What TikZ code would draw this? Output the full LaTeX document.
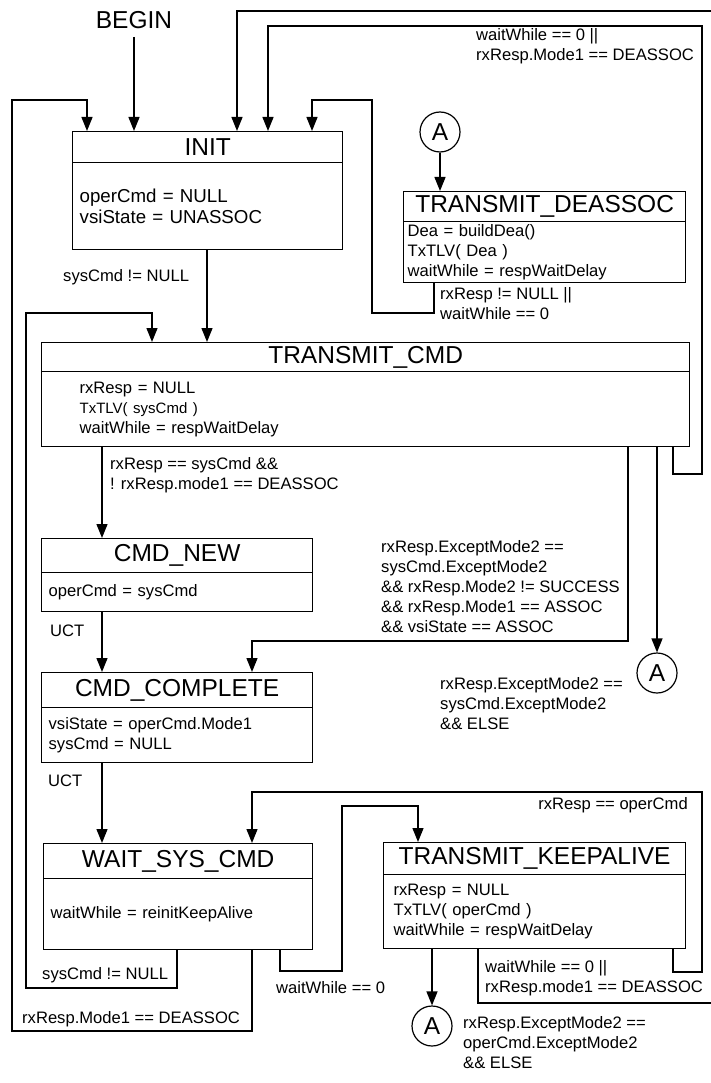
\documentclass[tikz,border=0pt]{standalone}
\usepackage{fontspec}
\setmainfont{Liberation Sans}
\usetikzlibrary{arrows.meta}

\newcommand{\titlesize}{\fontsize{24.5}{28}\selectfont}
\newcommand{\bodysize}{\fontsize{16.6}{20}\selectfont}
\newcommand{\initsize}{\fontsize{18.7}{21.5}\selectfont}

\tikzset{
  titlebox/.style={draw, line width=1.3pt, anchor=north west, inner sep=0pt, font=\titlesize},
  bodybox/.style={draw, line width=1.3pt, anchor=north west, inner ysep=0pt, align=left, font=\bodysize},
  conn/.style={draw, circle, line width=1.2pt, minimum size=40pt, inner sep=0pt, font=\titlesize},
  trans/.style={line width=1.3pt, -{Triangle[length=14pt,width=11pt]}},
  lbl/.style={anchor=west, align=left, inner sep=0pt, font=\bodysize},
}

\begin{document}
\begin{tikzpicture}[x=1pt, y=-1pt]
\useasboundingbox (0,0) rectangle (711,1083);
\clip (0,0) rectangle (711,1083);

% Draw the states
\node[titlebox, minimum width=270pt, minimum height=31pt] (init) at (72,131) {INIT};
\node[bodybox, font=\initsize, inner xsep=7pt, text width=256pt, minimum height=87pt] (initbody) at (72,162) {operCmd = NULL\\vsiState = UNASSOC};

\node[titlebox, minimum width=282pt, minimum height=30pt] (dea) at (403,191) {TRANSMIT\_DEASSOC};
\node[bodybox, inner xsep=4pt, text width=274pt, minimum height=61pt] (deabody) at (403,221) {Dea = buildDea()\\TxTLV( Dea )\\waitWhile = respWaitDelay};

\node[titlebox, minimum width=648pt, minimum height=29pt] (tcmd) at (41,342) {TRANSMIT\_CMD};
\node[bodybox, inner xsep=38pt, text width=572pt, minimum height=75pt] (tcmdbody) at (41,371) {rxResp = NULL\\{\fontsize{15}{20}\selectfont TxTLV( sysCmd )}\\waitWhile = respWaitDelay};

\node[titlebox, minimum width=271pt, minimum height=34pt] (cnew) at (41,538) {CMD\_NEW};
\node[bodybox, inner xsep=7pt, text width=257pt, minimum height=39pt] (cnewbody) at (41,572) {operCmd = sysCmd};

\node[titlebox, minimum width=271pt, minimum height=35pt] (ccomp) at (41,672) {CMD\_COMPLETE};
\node[bodybox, inner xsep=7pt, text width=257pt, minimum height=55pt] (ccompbody) at (41,707) {vsiState = operCmd.Mode1\\sysCmd = NULL};

\node[titlebox, minimum width=269pt, minimum height=35pt] (wait) at (43,843) {WAIT\_SYS\_CMD};
\node[bodybox, inner xsep=7pt, text width=255pt, minimum height=71pt] (waitbody) at (43,878) {waitWhile = reinitKeepAlive};

\node[titlebox, minimum width=302pt, minimum height=32pt] (ka) at (383,842) {TRANSMIT\_KEEPALIVE};
\node[bodybox, inner xsep=10pt, text width=282pt, minimum height=74pt] (kabody) at (383,874) {rxResp = NULL\\TxTLV( operCmd )\\waitWhile = respWaitDelay};

% Draw the connectors A
\node[conn] (a1) at (440,132) {A};
\node[conn] (a2) at (657,673) {A};
\node[conn] (a3) at (432,1026) {A};

% Draw the transitions
\node[font=\titlesize, inner sep=0pt] (begin) at (134,20) {BEGIN};
\draw[trans, shorten <=8pt] (begin.south) -- (begin.south |- init.north);
\draw[trans] (waitbody.south -| 252,0) -- (252,1031) -- (12,1031) -- (12,100) -- (87,100) -- (init.north -| 87,0);
\draw[trans] (waitbody.south -| 177,0) -- (177,988) -- (26,988) -- (26,313) -- (152,313) -- (tcmd.north -| 152,0);
\draw[trans] (initbody.south -| 207,0) -- (tcmd.north -| 207,0);
\draw[trans] (deabody.south -| 434,0) -- (434,313) -- (372,313) -- (372,100) -- (312,100) -- (init.north -| 312,0);
\draw[trans] (tcmdbody.south -| 673,0) -- (673,474) -- (702,474) -- (702,26) -- (268,26) -- (init.north -| 268,0);
\draw[trans] (kabody.south -| 478,0) -- (478,1003) -- (720,1003) -- (720,11) -- (237,11) -- (init.north -| 237,0);
\draw[trans] (a1.south) -- (a1.south |- dea.north);
\draw[trans] (tcmdbody.south -| 102,0) -- (cnew.north -| 102,0);
\draw[trans] (cnewbody.south -| 102,0) -- (ccomp.north -| 102,0);
\draw[trans] (tcmdbody.south -| 628,0) -- (628,641) -- (252,641) -- (ccomp.north -| 252,0);
\draw[trans] (tcmdbody.south -| a2.north) -- (a2.north);
\draw[trans] (ccompbody.south -| 102,0) -- (wait.north -| 102,0);
\draw[trans] (kabody.south -| 673,0) -- (673,972) -- (702,972) -- (702,792) -- (252,792) -- (wait.north -| 252,0);
\draw[trans] (waitbody.south -| 280,0) -- (280,971) -- (342,971) -- (342,806) -- (418,806) -- (ka.north -| 418,0);
\draw[trans] (kabody.south -| a3.north) -- (a3.north);

% Label the transitions
\node[lbl] (l1) at (63,277) {sysCmd != NULL};
\node[lbl] (l2) at (440,304) {rxResp != NULL ||\\waitWhile == 0};
\node[lbl] (l3) at (476,46) {waitWhile == 0 ||\\rxResp.Mode1 == DEASSOC};
\node[lbl] (l4) at (110,475) {rxResp == sysCmd \&\&\\! rxResp.mode1 == DEASSOC};
\node[lbl] (l5) at (50,631) {UCT};
\node[lbl] (l6) at (381,587) {rxResp.ExceptMode2 ==\\sysCmd.ExceptMode2\\\&\& rxResp.Mode2 != SUCCESS\\\&\& rxResp.Mode1 == ASSOC\\\&\& vsiState == ASSOC};
\node[lbl] (l7) at (440,704) {rxResp.ExceptMode2 ==\\sysCmd.ExceptMode2\\\&\& ELSE};
\node[lbl] (l8) at (48,781) {UCT};
\node[lbl, anchor=east] (l9) at (688,805) {rxResp == operCmd};
\node[lbl] (l10) at (276,988) {waitWhile == 0};
\node[lbl] (l11) at (42,975) {sysCmd != NULL};
\node[lbl] (l12) at (22,1019) {rxResp.Mode1 == DEASSOC};
\node[lbl] (l13) at (485,978) {waitWhile == 0 ||\\rxResp.mode1 == DEASSOC};
\node[lbl] (l14) at (463,1043) {rxResp.ExceptMode2 ==\\operCmd.ExceptMode2\\\&\& ELSE};
\end{tikzpicture}
\end{document}
